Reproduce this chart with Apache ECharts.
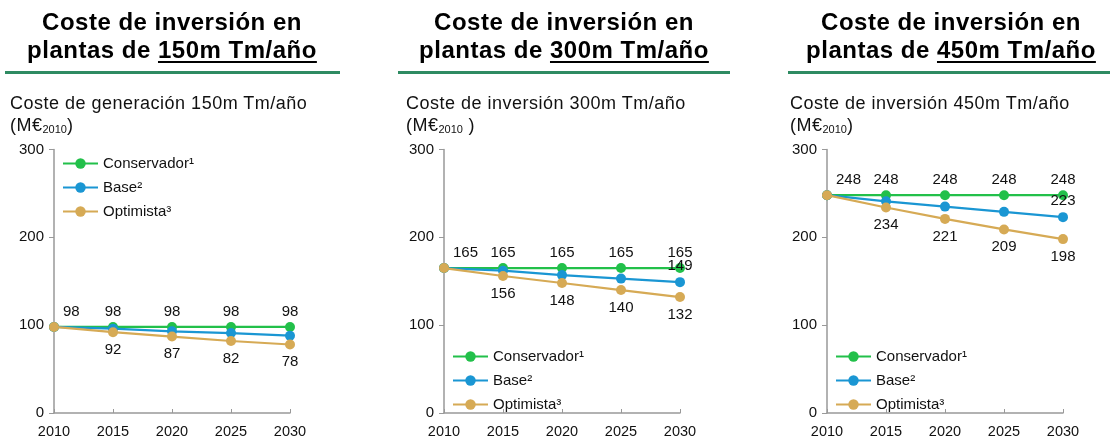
<!DOCTYPE html>
<html>
<head>
  <meta charset="utf-8">
  <title>Coste de inversión</title>
  <style>
    body {
      margin: 0;
      width: 1110px;
      height: 439px;
      background: #fff;
      font-family: "Liberation Sans", Arial, sans-serif;
      position: relative;
      overflow: hidden;
    }

    #chart {
      position: absolute;
      left: 0;
      top: 0;
      width: 1110px;
      height: 439px;
    }

    .head {
      position: absolute;
      top: 8px;
      text-align: center;
      font-weight: bold;
      font-size: 24px;
      line-height: 28px;
      letter-spacing: 0.5px;
      color: #000;
      white-space: nowrap;
    }

    .head u {
      text-underline-offset: 3px;
      text-decoration-thickness: 2px;
    }

    .rule {
      position: absolute;
      top: 71px;
      height: 3px;
      background: #2e8b62;
    }

    .sub {
      position: absolute;
      top: 92px;
      font-size: 18px;
      line-height: 22px;
      letter-spacing: 0.5px;
      color: #111;
      white-space: nowrap;
    }

    .sub sub {
      font-size: 11px;
      vertical-align: -2px;
      letter-spacing: 0;
    }
  </style>
</head>

<body>
  <div id="chart"></div>

  <div class="head" style="left:0;width:344px">Coste de inversión en<br>plantas de <u>150m Tm/año</u></div>
  <div class="head" style="left:396px;width:336px">Coste de inversión en<br>plantas de <u>300m Tm/año</u></div>
  <div class="head" style="left:786px;width:330px">Coste de inversión en<br>plantas de <u>450m Tm/año</u></div>

  <div class="rule" style="left:5px;width:335px"></div>
  <div class="rule" style="left:398px;width:332px"></div>
  <div class="rule" style="left:788px;width:322px"></div>

  <div class="sub" style="left:10px">Coste de generación 150m Tm/año<br>(M€<sub>2010</sub>)</div>
  <div class="sub" style="left:406px">Coste de inversión 300m Tm/año<br>(M€<sub>2010</sub> )</div>
  <div class="sub" style="left:790px">Coste de inversión 450m Tm/año<br>(M€<sub>2010</sub>)</div>

  <script src="https://cdn.jsdelivr.net/npm/echarts@6/dist/echarts.min.js"></script>
  <script>
    // datos
    var years = ['2010', '2015', '2020', '2025', '2030'];
    var seriesNames = ['Conservador¹', 'Base²', 'Optimista³'];

    var conservador150 = [98, 98, 98, 98, 98];
    var base150 = [98, 96, 93, 91, 88];
    var optimista150 = [98, 92, 87, 82, 78];

    var conservador300 = [165, 165, 165, 165, 165];
    var base300 = [165, 162, 157, 153, 149];
    var optimista300 = [165, 156, 148, 140, 132];

    var conservador450 = [248, 248, 248, 248, 248];
    var base450 = [248, 241, 235, 229, 223];
    var optimista450 = [248, 234, 221, 209, 198];

    var yTicks = [0, 100, 200, 300];

    var colors = ['#22c04a', '#1a96d3', '#d6aa55'];

    var panels = [
      { left: 54, cons: conservador150, base: base150, opt: optimista150, baseLabel: false, legendTop: 151 },
      { left: 444, cons: conservador300, base: base300, opt: optimista300, baseLabel: true, legendTop: 344 },
      { left: 827, cons: conservador450, base: base450, opt: optimista450, baseLabel: true, legendTop: 344 }
    ];

    var chart = echarts.init(document.getElementById('chart'));

    var labelFont = { fontSize: 15, color: '#111', fontFamily: 'Liberation Sans' };

    function consData(vals) {
      return vals.map(function (v, i) {
        var lab = Object.assign({ show: true, position: 'top', distance: 3 }, labelFont);
        if (i === 0) {
          lab.align = 'left';
          lab.offset = [9, 0];
        }
        return { value: v, label: lab };
      });
    }

    function baseData(vals, showLast) {
      return vals.map(function (v, i) {
        var lab = { show: false };
        if (showLast && i === vals.length - 1) {
          lab = Object.assign({ show: true, position: 'top', distance: 4 }, labelFont);
        }
        return { value: v, label: lab };
      });
    }

    function optData(vals) {
      return vals.map(function (v, i) {
        var lab = { show: false };
        if (i > 0) lab = Object.assign({ show: true, position: 'bottom', distance: 5 }, labelFont);
        return { value: v, label: lab };
      });
    }

    var grid = [], xAxis = [], yAxis = [], series = [], legend = [];

    panels.forEach(function (p, k) {
      grid.push({ left: p.left, width: 236, top: 149.5, height: 264.5, containLabel: false });
      xAxis.push({
        gridIndex: k,
        type: 'category',
        data: years,
        boundaryGap: false,
        axisLine: { lineStyle: { color: '#999', width: 1.5 } },
        axisTick: { inside: true, length: 4, lineStyle: { color: '#999' } },
        axisLabel: { margin: 11, fontSize: 14.5, color: '#111', fontFamily: 'Liberation Sans' }
      });
      yAxis.push({
        gridIndex: k,
        type: 'value',
        min: yTicks[0],
        max: yTicks[yTicks.length - 1],
        interval: 100,
        splitLine: { show: false },
        axisLine: { show: true, lineStyle: { color: '#999', width: 1.5 } },
        axisTick: { show: true, length: 5, lineStyle: { color: '#999' } },
        axisLabel: { margin: 10, fontSize: 15, color: '#111', fontFamily: 'Liberation Sans' }
      });

      var sets = [consData(p.cons), baseData(p.base, p.baseLabel), optData(p.opt)];
      sets.forEach(function (d, j) {
        series.push({
          name: seriesNames[j],
          type: 'line',
          xAxisIndex: k,
          yAxisIndex: k,
          data: d,
          symbol: 'circle',
          symbolSize: 10,
          color: colors[j],
          lineStyle: { width: 2.2, color: colors[j] },
          itemStyle: { color: colors[j] },
          emphasis: { disabled: true },
          animation: false,
          z: 2 + j
        });
      });

      legend.push({
        data: seriesNames,
        orient: 'vertical',
        left: p.left + 3,
        top: p.legendTop,
        itemWidth: 35,
        itemHeight: 13,
        itemGap: 9,
        textStyle: { fontSize: 15, color: '#111', fontFamily: 'Liberation Sans' },
        selectedMode: false
      });
    });

    chart.setOption({
      animation: false,
      grid: grid,
      xAxis: xAxis,
      yAxis: yAxis,
      legend: legend,
      series: series
    });
  </script>
</body>
</html>
